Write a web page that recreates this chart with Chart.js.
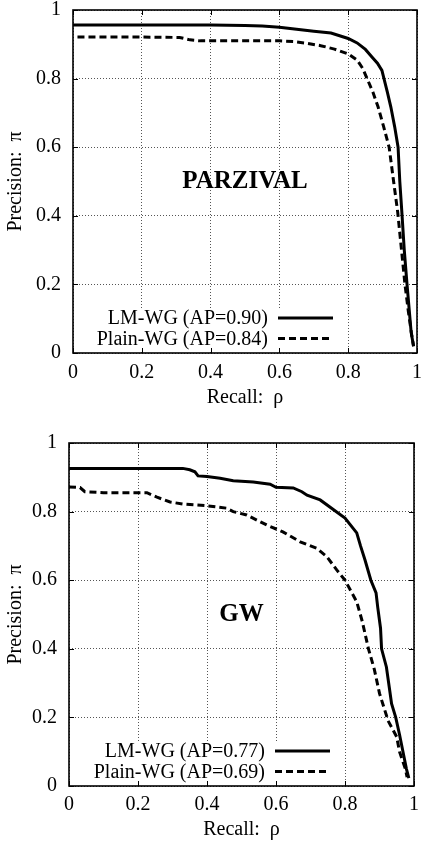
<!DOCTYPE html>
<html lang="en">
<head>
<meta charset="UTF-8">
<title>Precision / Recall</title>
<script src="https://cdn.jsdelivr.net/npm/chart.js"></script>
<style>
  body { margin: 0; background: #fff; }
  canvas { display: block; }
</style>
</head>
<body>
<canvas id="parzivalChart" width="421" height="420"></canvas>
<canvas id="gwChart" width="421" height="426"></canvas>
<script>
// PARZIVAL
const parzLmRecall = [0, 0.1, 0.2, 0.3, 0.4, 0.5, 0.55, 0.6, 0.65, 0.7, 0.75, 0.8, 0.826, 0.85, 0.869, 0.885, 0.898, 0.904, 0.914, 0.924, 0.935, 0.945, 0.95, 0.956, 0.963, 0.971, 0.983, 0.99];
const parzLmPrec   = [0.956, 0.956, 0.956, 0.956, 0.956, 0.955, 0.953, 0.95, 0.944, 0.938, 0.933, 0.917, 0.904, 0.885, 0.863, 0.845, 0.824, 0.8, 0.76, 0.717, 0.66, 0.6, 0.5, 0.41, 0.3, 0.2, 0.06, 0.02];
const parzPlainRecall = [0.013, 0.1, 0.2, 0.31, 0.34, 0.37, 0.5, 0.6, 0.64, 0.68, 0.72, 0.76, 0.8, 0.826, 0.842, 0.855, 0.872, 0.887, 0.903, 0.919, 0.932, 0.944, 0.955, 0.965, 0.975, 0.985, 0.99];
const parzPlainPrec   = [0.921, 0.921, 0.921, 0.92, 0.913, 0.91, 0.91, 0.91, 0.908, 0.903, 0.896, 0.886, 0.872, 0.854, 0.83, 0.8, 0.76, 0.717, 0.66, 0.6, 0.5, 0.41, 0.3, 0.2, 0.12, 0.05, 0.02];

// GW
const gwLmRecall = [0, 0.1, 0.2, 0.33, 0.35, 0.365, 0.374, 0.4, 0.438, 0.476, 0.534, 0.583, 0.6, 0.65, 0.675, 0.69, 0.728, 0.766, 0.8, 0.834, 0.845, 0.858, 0.875, 0.89, 0.895, 0.903, 0.906, 0.92, 0.928, 0.935, 0.947, 0.958, 0.966, 0.972, 0.978, 0.985];
const gwLmPrec   = [0.926, 0.926, 0.926, 0.926, 0.922, 0.916, 0.904, 0.902, 0.897, 0.89, 0.886, 0.88, 0.871, 0.869, 0.858, 0.848, 0.834, 0.806, 0.781, 0.738, 0.7, 0.659, 0.6, 0.563, 0.52, 0.46, 0.4, 0.347, 0.29, 0.24, 0.2, 0.15, 0.11, 0.08, 0.05, 0.023];
const gwPlainRecall = [0, 0.032, 0.046, 0.1, 0.226, 0.255, 0.293, 0.33, 0.4, 0.457, 0.476, 0.515, 0.573, 0.62, 0.67, 0.718, 0.747, 0.776, 0.8, 0.834, 0.85, 0.868, 0.885, 0.9, 0.925, 0.95, 0.958, 0.966, 0.975, 0.98];
const gwPlainPrec   = [0.872, 0.87, 0.858, 0.855, 0.855, 0.842, 0.828, 0.822, 0.817, 0.81, 0.8, 0.79, 0.761, 0.741, 0.712, 0.693, 0.669, 0.63, 0.6, 0.537, 0.48, 0.4, 0.34, 0.27, 0.19, 0.143, 0.1, 0.076, 0.05, 0.026];

const axisTicks = [0, 0.2, 0.4, 0.6, 0.8, 1];
const FONT = '"Liberation Serif", "Times New Roman", serif';

function pairs(xs, ys) {
  return xs.map((x, i) => ({ x: x, y: ys[i] }));
}

// box, inner ticks, dataset name and the key
const gnuplotLook = {
  id: 'gnuplotLook',
  beforeDatasetsDraw(chart) {
    const { ctx, chartArea: a } = chart;
    ctx.save();
    ctx.fillStyle = '#fff';
    ctx.fillRect(a.right - 333, a.bottom - 45, 256, 44);
    ctx.restore();
  },
  afterDatasetsDraw(chart, args, opts) {
    const { ctx, chartArea: a, scales } = chart;
    ctx.save();
    ctx.strokeStyle = '#000';
    ctx.lineWidth = 1;
    ctx.beginPath();
    scales.x.ticks.forEach(t => {
      const px = Math.round(scales.x.getPixelForValue(t.value)) + 0.5;
      ctx.moveTo(px, a.bottom); ctx.lineTo(px, a.bottom - 5);
      ctx.moveTo(px, a.top); ctx.lineTo(px, a.top + 5);
    });
    scales.y.ticks.forEach(t => {
      const py = Math.round(scales.y.getPixelForValue(t.value)) + 0.5;
      ctx.moveTo(a.left, py); ctx.lineTo(a.left + 5, py);
      ctx.moveTo(a.right, py); ctx.lineTo(a.right - 5, py);
    });
    ctx.stroke();

    ctx.lineWidth = 1.6;
    ctx.strokeRect(a.left, a.top, a.right - a.left, a.bottom - a.top);

    // name of the dataset
    ctx.fillStyle = '#000';
    ctx.font = 'bold 25px ' + FONT;
    ctx.textAlign = 'center';
    ctx.textBaseline = 'middle';
    ctx.fillText(opts.name, scales.x.getPixelForValue(0.5), scales.y.getPixelForValue(0.5));

    // key
    ctx.font = '20px ' + FONT;
    ctx.textAlign = 'right';
    chart.data.datasets.forEach((ds, i) => {
      const y = a.bottom - 35 + i * 20.5;
      ctx.fillText(ds.label, a.right - 149, y + 1);
      ctx.beginPath();
      ctx.lineWidth = ds.borderWidth;
      ctx.setLineDash(ds.borderDash || []);
      ctx.moveTo(a.right - 139, y);
      ctx.lineTo(a.right - 84, y);
      ctx.stroke();
    });
    ctx.restore();
  }
};

function fmt(v) {
  return String(Number(v.toFixed(1)));
}

function makeChart(id, name, lm, plain, pad, axisW, axisH, tickPad, titlePad) {
  return new Chart(document.getElementById(id), {
    type: 'line',
    data: {
      datasets: [
        { label: lm.label, data: pairs(lm.x, lm.y), borderColor: '#000', borderWidth: 3, pointRadius: 0, tension: 0 },
        { label: plain.label, data: pairs(plain.x, plain.y), borderColor: '#000', borderWidth: 3, borderDash: [7, 4], pointRadius: 0, tension: 0 }
      ]
    },
    options: {
      responsive: false,
      animation: false,
      layout: { padding: pad },
      plugins: {
        legend: { display: false },
        tooltip: { enabled: false },
        gnuplotLook: { name: name }
      },
      scales: {
        x: {
          type: 'linear',
          min: 0, max: 1,
          afterBuildTicks: s => { s.ticks = axisTicks.map(v => ({ value: v })); },
          afterFit: s => { s.height = axisH; s.paddingLeft = 0; s.paddingRight = 0; },
          border: { display: false, dash: [1, 2] },
          grid: { color: '#555', lineWidth: 1, drawTicks: false },
          ticks: { color: '#000', padding: tickPad, maxRotation: 0, font: { family: FONT, size: 20 }, callback: fmt },
          title: { display: true, text: 'Recall:  ρ', color: '#000', padding: titlePad,
                   font: { family: FONT, size: 20, lineHeight: 1.2 } }
        },
        y: {
          min: 0, max: 1,
          afterBuildTicks: s => { s.ticks = axisTicks.map(v => ({ value: v })); },
          afterFit: s => { s.width = axisW; s.paddingTop = 0; s.paddingBottom = 0; },
          border: { display: false, dash: [1, 2] },
          grid: { color: '#555', lineWidth: 1, drawTicks: false },
          ticks: { color: '#000', padding: 12, font: { family: FONT, size: 20 }, callback: fmt },
          title: { display: true, text: 'Precision:  π', color: '#000', padding: { top: 4, bottom: 4 },
                   font: { family: FONT, size: 20, lineHeight: 1.2 } }
        }
      }
    },
    plugins: [gnuplotLook]
  });
}

makeChart('parzivalChart', 'PARZIVAL',
  { label: 'LM-WG (AP=0.90)', x: parzLmRecall, y: parzLmPrec },
  { label: 'Plain-WG (AP=0.84)', x: parzPlainRecall, y: parzPlainPrec },
  { top: 10, right: 4, left: 0, bottom: 0 }, 73, 67, 8, { top: 4, bottom: 10 });

makeChart('gwChart', 'GW',
  { label: 'LM-WG (AP=0.77)', x: gwLmRecall, y: gwLmPrec },
  { label: 'Plain-WG (AP=0.69)', x: gwPlainRecall, y: gwPlainPrec },
  { top: 23, right: 7, left: 0, bottom: 0 }, 69, 60, 7, { top: 4, bottom: 4 });
</script>
</body>
</html>
